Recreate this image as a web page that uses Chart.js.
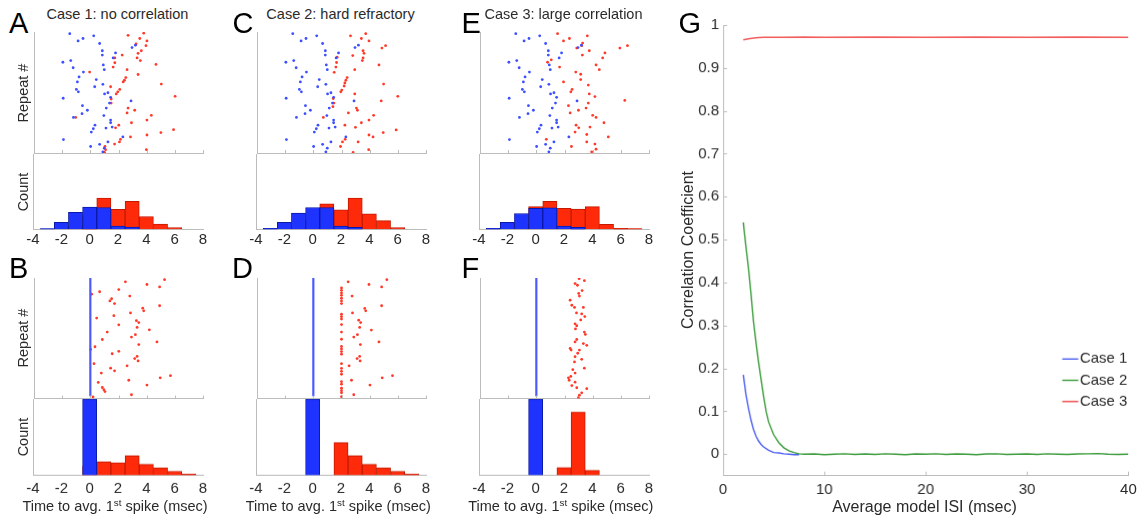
<!DOCTYPE html>
<html>
<head>
<meta charset="utf-8">
<script src="https://cdn.jsdelivr.net/npm/chart.js@4"></script>
<style>
body { margin: 0; background: #fff; }
#fig { position: relative; width: 1144px; height: 518px; overflow: hidden;
       font-family: "Liberation Sans", Arial, sans-serif; color: #2a2a2a; }
.box { position: absolute; }
.lbl { position: absolute; white-space: nowrap; line-height: 1; }
.letter { font-size: 29px; color: #000; }
.ttl { font-size: 14.5px; transform: translateX(-50%); }
.rot { transform: translate(-50%, -50%) rotate(-90deg); }
sup { font-size: 0.68em; vertical-align: 0.5em; line-height: 0; }
</style>
</head>
<body>
<div id="fig"></div>
<script>
// ---- data ----
const timeTicks = [-4, -2, 0, 2, 4, 6, 8];
const histBins = [-4, -3, -2, -1, 0, 1, 2, 3, 4, 5, 6, 7, 8];
const repeats = [1,2,3,4,5,6,7,8,9,10,11,12,13,14,15,16,17,18,19,20,21,22,23,24,25,
                 26,27,28,29,30,31,32,33,34,35,36,37,38,39,40,41,42,43,44,45,46,47,48,49,50];
const fixedBlueTime = 0;

// [time to avg 1st spike (msec), repeat #]
const rasterTopBlue = [[-1.46,49.7],[-0.87,46.7],[-0.52,47.7],[0.24,48.8],[0.66,45.6],[0.85,42.6],[0.85,40.8],
  [1.79,41.7],[1.62,39.6],[-1.95,37.8],[-1.39,38.5],[-1.22,35.5],[0.92,36.7],[0.99,34.7],[-0.49,33.7],
  [-0.80,31.7],[-0.92,29.6],[0.42,30.6],[0.89,28.6],[0.31,27.6],[-0.99,26.5],[-0.85,25.5],[1.25,25.1],
  [1.01,24.6],[-1.93,22.8],[1.44,23.2],[1.36,20.8],[2.89,21.7],[-0.56,19.7],[-0.21,17.8],[-0.59,16.4],
  [1.13,18.7],[-1.20,14.8],[0.96,15.6],[1.44,13.7],[1.44,12.6],[0.33,11.6],[0.21,10.1],[0.07,8.7],
  [1.11,10.4],[-1.91,5.6],[1.55,10.8],[0.02,2.7],[0.66,3.6],[1.25,4.6],[0.89,0.5],[0.99,2.0],
  [2.96,43.9],[3.20,44.9],[2.31,6.7]];
const rasterA_red = [[2.68,49.0],[3.79,49.9],[3.51,47.7],[4.02,46.7],[3.25,45.4],[3.62,42.6],[3.39,41.5],
  [3.95,44.7],[2.26,40.8],[1.74,39.6],[3.32,39.6],[3.55,38.5],[1.74,37.6],[1.62,35.8],[4.66,36.9],
  [2.61,34.7],[-0.05,33.7],[3.39,32.7],[2.52,31.4],[2.42,30.3],[2.33,29.6],[5.04,28.7],[1.44,27.6],
  [2.09,26.5],[1.95,25.5],[1.84,24.6],[6.02,23.6],[1.48,22.5],[1.48,20.8],[3.15,17.8],[2.68,18.7],
  [2.61,16.7],[4.33,15.7],[4.02,13.7],[2.92,12.6],[-1.04,14.8],[2.02,11.6],[1.79,10.5],[5.91,9.7],
  [5.01,8.5],[4.02,7.5],[2.85,6.7],[2.14,5.7],[2.07,4.6],[1.72,3.7],[3.98,1.4],[1.04,2.7],[1.08,1.4],[1.01,0.3]];
const rasterC_red = [[2.64,48.8],[3.72,49.7],[3.41,47.7],[3.95,46.7],[4.87,43.7],[5.13,44.7],[3.53,42.6],
  [3.60,41.5],[2.80,40.6],[3.53,39.6],[3.48,38.5],[1.69,39.9],[1.65,37.7],[1.60,35.8],[1.48,33.6],
  [4.66,36.7],[2.94,34.7],[2.40,31.4],[2.31,30.3],[2.24,29.2],[2.19,27.9],[2.02,26.2],[1.95,25.5],
  [4.99,28.7],[2.94,24.6],[1.41,22.7],[1.46,20.8],[1.39,19.3],[6.00,23.6],[4.82,21.7],[3.06,18.7],
  [3.13,17.8],[2.49,16.7],[4.28,15.7],[3.95,13.7],[3.41,12.6],[0.71,14.8],[2.24,11.6],[2.99,10.7],
  [5.88,9.6],[4.96,8.5],[3.95,7.5],[4.24,6.7],[2.26,5.7],[2.07,4.6],[3.18,4.6],[1.93,2.7],[3.93,1.4],[2.82,0.3]];
const rasterE_red = [[1.51,49.7],[1.93,46.7],[2.35,47.7],[3.62,48.8],[3.29,45.8],[3.22,44.7],[2.87,43.7],
  [3.76,42.6],[3.27,40.8],[4.87,41.7],[4.71,39.6],[5.93,43.7],[6.47,44.7],[1.06,38.8],[0.80,37.8],
  [1.65,35.8],[4.24,36.7],[4.47,34.7],[2.80,33.7],[3.15,32.8],[3.15,30.6],[3.69,28.3],[1.93,29.6],
  [2.54,26.5],[2.45,25.5],[3.76,24.6],[4.16,23.5],[6.28,21.9],[2.28,19.7],[3.53,18.7],[3.69,20.8],
  [2.99,17.8],[2.40,16.7],[4.00,15.7],[4.24,14.8],[4.80,12.6],[2.82,11.6],[3.81,10.8],[3.01,10.5],
  [2.75,8.7],[3.58,7.7],[5.11,6.7],[0.71,5.7],[3.58,4.6],[4.16,3.7],[2.49,2.7],[4.24,1.6],[3.93,0.5]];
const rasterB_red = [[2.49,48.4],[5.27,49.3],[4.02,47.3],[4.92,46.3],[0.66,44.3],[2.02,45.2],[0.09,43.3],
  [2.80,42.5],[1.51,41.4],[1.39,40.5],[1.72,39.4],[4.92,38.5],[3.72,37.5],[3.79,36.4],[1.67,34.4],
  [2.85,35.5],[0.45,33.4],[3.27,32.3],[3.44,31.5],[2.02,30.6],[3.32,29.5],[4.19,28.5],[1.20,27.6],
  [3.20,26.5],[2.92,25.5],[0.85,24.5],[4.73,23.5],[0.33,21.5],[3.44,22.4],[2.02,19.6],[1.55,18.6],
  [3.32,17.5],[3.15,16.6],[3.39,15.6],[0.26,14.5],[2.61,13.6],[1.44,12.6],[1.72,11.5],[0.78,10.6],
  [5.69,9.5],[4.96,8.6],[2.73,7.6],[0.56,6.7],[4.02,5.6],[0.85,4.6],[0.96,3.7],[1.04,2.9],[2.92,1.6],
  [0.19,0.7],[0.02,20.4]];
const rasterD_red = [[2.47,48.4],[5.22,49.3],[3.95,47.3],[4.85,46.3],[2.75,42.5],[4.85,38.5],[3.65,37.4],
  [3.72,36.4],[2.78,35.5],[3.22,32.5],[3.36,31.5],[3.29,29.5],[4.12,28.4],[3.13,26.5],[2.87,25.5],
  [4.66,23.5],[3.34,22.4],[3.29,17.5],[3.11,16.6],[3.32,15.6],[2.54,13.6],[5.62,9.5],[4.89,8.6],
  [2.71,7.6],[4.02,5.6],[2.87,1.6],
  [2,45.9],[2,44.9],[2,43.8],[2,42.8],[2,41.6],[2,40.5],[2,39.4],[2,35.0],[2,34.0],[2,33.0],[2,30.7],
  [2,27.6],[2,24.6],[2,21.6],[2,20.6],[2,19.5],[2,18.4],[2,14.5],[2,12.5],[2,11.3],[2,10.1],[2,7.0],
  [2,6.0],[2,4.3],[2,3.3],[2,2.4],[2,0.8]];
const rasterF_red = [[3.04,49.7],[3.41,48.9],[2.75,47.7],[2.92,47.0],[3.25,44.8],[3.01,43.6],[3.06,42.5],
  [2.40,40.8],[2.52,38.7],[2.71,37.8],[3.34,37.8],[2.85,35.5],[3.22,35.1],[3.44,34.0],[3.15,32.6],
  [2.75,31.0],[2.87,30.2],[2.78,28.9],[3.41,27.6],[3.48,26.6],[2.87,24.5],[2.75,23.5],[3.34,22.8],
  [3.58,22.1],[2.40,20.8],[2.47,20.1],[3.06,20.1],[2.94,18.8],[2.75,17.4],[3.22,16.3],[2.71,15.2],
  [3.41,12.6],[2.59,12.0],[2.75,10.6],[2.45,9.2],[2.28,8.6],[2.33,7.6],[2.75,6.8],[2.52,5.4],[2.87,4.5],
  [3.58,4.1],[3.22,2.4],[3.06,1.4],[2.99,0.4]];

// histogram counts per bin (bins = histBins)
const histA_blue = [0, 0.5, 4.7, 11.3, 14.7, 14.5, 2.2, 1.5, 0, 0, 0, 0, 0];
const histA_red  = [0, 0, 0, 2, 9, 20.7, 13.3, 18.5, 8.5, 3.5, 1.1, 0, 0];
const histC_blue = [0, 0.7, 4.7, 10.7, 14.5, 14.5, 2.2, 1.3, 0, 0, 0, 0, 0];
const histC_red  = [0, 0, 0, 1, 6, 16.9, 12.9, 20.7, 10.2, 5.8, 1.1, 0, 0];
const histE_blue = [0, 0.7, 4.7, 10.5, 14, 14.2, 2.2, 1.3, 0, 0, 0, 0, 0];
const histE_red  = [0, 0, 0, 4, 15.1, 18.5, 14, 13.5, 15.1, 3.3, 0.7, 0.5, 0];
const histB_blue = [0, 0, 0, 0, 50, 0, 0, 0, 0, 0, 0, 0, 0];
const histB_red  = [0, 0, 0, 0, 6, 8.9, 8.2, 12.9, 7.3, 4.9, 2.7, 0.9, 0];
const histD_blue = [0, 0, 0, 0, 50, 0, 0, 0, 0, 0, 0, 0, 0];
const histD_red  = [0, 0, 0, 0, 0, 0, 21.5, 12.9, 7.3, 4.9, 2.7, 0.9, 0];
const histF_blue = [0, 0, 0, 0, 50, 0, 0, 0, 0, 0, 0, 0, 0];
const histF_red  = [0, 0, 0, 0, 0, 0, 5.1, 41.5, 3.3, 0, 0, 0, 0];

// panel G
const isiTicks = [0, 10, 20, 30, 40];
const corrTicks = [0, 0.1, 0.2, 0.3, 0.4, 0.5, 0.6, 0.7, 0.8, 0.9, 1];
const case1X = [2, 2.25, 2.5, 2.75, 3, 3.25, 3.5, 3.75, 4, 4.5, 5, 5.5, 6, 6.5, 7, 7.5];
const case1Y = [0.185, 0.14, 0.108, 0.08, 0.058, 0.042, 0.031, 0.023, 0.017, 0.009, 0.004, 0.003, 0.001, 0, -0.001, -0.001];
const case2X = [2, 2.25, 2.5, 2.75, 3, 3.25, 3.5, 3.75, 4, 4.25, 4.5, 5, 5.5, 6, 6.5, 7, 7.5,
  8, 9, 10, 11, 12, 13, 14, 15, 16, 17, 18, 19, 20, 21, 22, 23, 24, 25, 26, 27, 28, 29, 30,
  31, 32, 33, 34, 35, 36, 37, 38, 39, 40];
const case2Y = [0.54, 0.485, 0.435, 0.375, 0.31, 0.26, 0.215, 0.175, 0.135, 0.10, 0.075, 0.045, 0.027, 0.015, 0.008, 0.004, 0.001,
  0, 0.0005, -0.001, 0, 0.001, -0.0005, 0.0005, -0.0005, 0.001, 0, -0.001, 0.0005, 0, 0.001, -0.0005, 0.0005, 0,
  -0.001, 0.0005, 0.001, -0.0005, 0, 0.0005, -0.0005, 0.001, 0, -0.0005, 0.0005, 0.001, 0.0015, 0, -0.0005, 0];
const case3X = [2, 2.5, 3, 3.5, 4, 5, 6, 8, 10, 15, 20, 25, 30, 35, 40];
const case3Y = [0.9657, 0.968, 0.9695, 0.9707, 0.9713, 0.9715, 0.9715, 0.9716, 0.9715, 0.9716, 0.9715, 0.9716, 0.9715, 0.9716, 0.9715];

// ---- layout / style ----
const AXIS = '#bcbcbc';
const DOT_BLUE = '#3d50ff', DOT_RED = '#ff3a2a';
const BAR_BLUE = '#1f33ff', EDGE_BLUE = '#0a1aa8';
const BAR_RED = '#ff2a0a', EDGE_RED = '#c41a00';
const colLeft = [33, 256, 479];
const colW = 170;
const rasterRows = [[31, 154], [276.7, 399.3]];
const histRows = [[154, 229.3], [399.3, 474.9]];
const rasterMax = [50.4, 50.0];
const tickPad = [2, 4];

Chart.defaults.font.family = '"Liberation Sans", Arial, sans-serif';
Chart.defaults.color = '#2a2a2a';

const fig = document.getElementById('fig');
// force an axis to a fixed thickness so the plot area lands where wanted
const fitTo = size => s => { if (s.isHorizontal()) s.height = size; else s.width = size; };
const fixTicks = vals => s => { s.ticks = vals.map(v => ({value: v})); };

// small inward tick marks
const inTicks = {
  id: 'inTicks',
  afterDatasetsDraw(chart, args, opts) {
    if (!opts.axes) return;
    const ctx = chart.ctx, a = chart.chartArea;
    ctx.save();
    ctx.strokeStyle = opts.color;
    ctx.lineWidth = 1;
    opts.axes.forEach(id => {
      const s = chart.scales[id];
      s.ticks.forEach(t => {
        const p = Math.round(s.getPixelForValue(t.value)) + 0.5;
        ctx.beginPath();
        if (s.isHorizontal()) { ctx.moveTo(p, a.bottom); ctx.lineTo(p, a.bottom - opts.len); }
        else { ctx.moveTo(a.left, p); ctx.lineTo(a.left + opts.len, p); }
        ctx.stroke();
      });
    });
    ctx.restore();
  }
};

// legend inside the G plot
const sideLegend = {
  id: 'sideLegend',
  afterDraw(chart, args, opts) {
    const ctx = chart.ctx, a = chart.chartArea;
    ctx.save();
    ctx.font = '15px "Liberation Sans", Arial, sans-serif';
    ctx.textBaseline = 'middle';
    chart.data.datasets.forEach((ds, i) => {
      const x = a.right - opts.dx, y = a.top + opts.dy + i * opts.gap;
      ctx.strokeStyle = ds.borderColor;
      ctx.lineWidth = ds.borderWidth;
      ctx.beginPath(); ctx.moveTo(x, y); ctx.lineTo(x + 16, y); ctx.stroke();
      ctx.fillStyle = '#2a2a2a';
      ctx.fillText(ds.label, x + 17.5, y);
    });
    ctx.restore();
  }
};

// box = outer margins around the plot area; axes with labels take margin via fitTo
function addChart(l, t, r, b, box, pad, config) {
  const div = document.createElement('div');
  div.className = 'box';
  div.style.left = (l - box.left) + 'px';
  div.style.top = (t - box.top) + 'px';
  div.style.width = (r - l + box.left + box.right) + 'px';
  div.style.height = (b - t + box.top + box.bottom) + 'px';
  const cv = document.createElement('canvas');
  div.appendChild(cv);
  fig.appendChild(div);
  config.options.responsive = true;
  config.options.maintainAspectRatio = false;
  config.options.animation = false;
  config.options.layout = {padding: pad};
  return new Chart(cv, config);
}

const toPoints = pairs => pairs.map(p => ({x: p[0], y: p[1]}));
const toBars = vals => histBins.map((b, i) => ({x: b, y: vals[i] || null}));

function rasterChart(col, row, blue, red) {
  const [t, b] = rasterRows[row];
  const l = colLeft[col];
  const blueDs = blue
    ? {data: toPoints(blue), backgroundColor: DOT_BLUE, pointRadius: 1.4, borderWidth: 0}
    : {data: repeats.map(r => ({x: fixedBlueTime, y: r})), showLine: true, borderColor: '#4a5aff',
       borderWidth: 2.2, pointRadius: 0};
  const m = {top: 3, right: 4, bottom: 3, left: 3};
  addChart(l, t, l + colW, b, m, m, {
    type: 'scatter',
    data: {datasets: [blueDs,
      {data: toPoints(red), backgroundColor: DOT_RED, pointRadius: 1.4, borderWidth: 0}]},
    options: {
      plugins: {legend: {display: false}, tooltip: {enabled: false},
                inTicks: {axes: ['x'], len: 3, color: AXIS}},
      scales: {
        x: {type: 'linear', min: -4, max: 8, afterBuildTicks: fixTicks(timeTicks),
            ticks: {display: false}, grid: {display: false}, border: {color: AXIS}, afterFit: fitTo(0)},
        y: {type: 'linear', min: 0, max: rasterMax[row], ticks: {display: false},
            grid: {display: false}, border: {color: AXIS}, afterFit: fitTo(0)}
      }
    },
    plugins: [inTicks]
  });
}

function histChart(col, row, hb, hr) {
  const [t, b] = histRows[row];
  const l = colLeft[col];
  const box = {top: 2, right: 12, bottom: 26, left: 12};
  addChart(l, t, l + colW, b, box, {top: 2, right: 12, bottom: 0, left: 12}, {
    type: 'bar',
    data: {datasets: [
      {data: toBars(hb), backgroundColor: BAR_BLUE, borderColor: EDGE_BLUE, borderWidth: 1, order: 0},
      {data: toBars(hr), backgroundColor: BAR_RED, borderColor: EDGE_RED, borderWidth: 1, order: 1}]},
    options: {
      datasets: {bar: {grouped: false, barPercentage: 1, categoryPercentage: 1}},
      plugins: {legend: {display: false}, tooltip: {enabled: false}},
      scales: {
        x: {type: 'linear', min: -4, max: 8, offset: false, afterBuildTicks: fixTicks(timeTicks),
            ticks: {padding: tickPad[row], font: {size: 15}, autoSkip: false, maxRotation: 0,
                    callback: v => String(v)},
            grid: {display: false, drawTicks: false}, border: {color: AXIS}, afterFit: fitTo(26)},
        y: {type: 'linear', min: 0, max: 50, ticks: {display: false},
            grid: {display: false}, border: {color: AXIS}, afterFit: fitTo(0)}
      }
    }
  });
}

rasterChart(0, 0, rasterTopBlue, rasterA_red); histChart(0, 0, histA_blue, histA_red);
rasterChart(1, 0, rasterTopBlue, rasterC_red); histChart(1, 0, histC_blue, histC_red);
rasterChart(2, 0, rasterTopBlue, rasterE_red); histChart(2, 0, histE_blue, histE_red);
rasterChart(0, 1, null, rasterB_red); histChart(0, 1, histB_blue, histB_red);
rasterChart(1, 1, null, rasterD_red); histChart(1, 1, histD_blue, histD_red);
rasterChart(2, 1, null, rasterF_red); histChart(2, 1, histF_blue, histF_red);

const zip = (xs, ys) => xs.map((x, i) => ({x: x, y: ys[i]}));
addChart(723.3, 25, 1127.7, 474.7, {top: 15, right: 16, bottom: 26, left: 36},
         {top: 15, right: 16, bottom: 0, left: 0}, {
  type: 'scatter',
  data: {datasets: [
    {label: 'Case 1', data: zip(case1X, case1Y), showLine: true, borderColor: '#4d5ff0', borderWidth: 1.4, pointRadius: 0, order: 2},
    {label: 'Case 2', data: zip(case2X, case2Y), showLine: true, borderColor: '#3a9a3a', borderWidth: 1.4, pointRadius: 0, order: 0},
    {label: 'Case 3', data: zip(case3X, case3Y), showLine: true, borderColor: '#f25a5a', borderWidth: 1.6, pointRadius: 0, order: 1}]},
  options: {
    plugins: {legend: {display: false}, tooltip: {enabled: false},
              inTicks: {axes: ['x', 'y'], len: 4, color: AXIS},
              sideLegend: {dx: 66, dy: 333.3, gap: 21.2}},
    scales: {
      x: {type: 'linear', min: 0, max: 40, afterBuildTicks: fixTicks(isiTicks),
          ticks: {padding: 5, font: {size: 15}, maxRotation: 0, callback: v => String(v)},
          grid: {display: false, drawTicks: false}, border: {color: AXIS}, afterFit: fitTo(26)},
      y: {type: 'linear', min: -0.05, max: 1, afterBuildTicks: fixTicks(corrTicks),
          ticks: {padding: 4, font: {size: 15}, callback: v => String(v)},
          grid: {display: false, drawTicks: false}, border: {color: AXIS}, afterFit: fitTo(36)}
    }
  },
  plugins: [inTicks, sideLegend]
});

// ---- text ----
function addText(html, cls, x, y, size) {
  const d = document.createElement('div');
  d.className = 'lbl ' + cls;
  d.innerHTML = html;
  d.style.left = x + 'px';
  d.style.top = y + 'px';
  if (size) d.style.fontSize = size + 'px';
  fig.appendChild(d);
}
addText('A', 'letter', 9, 8.5);
addText('B', 'letter', 9, 254);
addText('C', 'letter', 232.5, 8.5);
addText('D', 'letter', 232, 254);
addText('E', 'letter', 461.5, 8.5);
addText('F', 'letter', 461.5, 254);
addText('G', 'letter', 678.5, 8.5);
addText('Case 1: no correlation', 'ttl', 117.5, 6.7);
addText('Case 2: hard refractory', 'ttl', 340.5, 6.7);
addText('Case 3: large correlation', 'ttl', 563.5, 6.7);
addText('Repeat #', 'rot', 22.5, 92.5, 14.5);
addText('Count', 'rot', 22.5, 191.5, 14.5);
addText('Repeat #', 'rot', 22.5, 338, 14.5);
addText('Count', 'rot', 22.5, 437, 14.5);
const xLab = 'Time to avg. 1<sup>st</sup> spike (msec)';
addText(xLab, 'ttl', 115, 499);
addText(xLab, 'ttl', 338.3, 499);
addText(xLab, 'ttl', 560.8, 499);
addText('Correlation Coefficient', 'rot', 688, 250, 16);
addText('Average model ISI (msec)', 'ttl', 924.5, 499, 16);
</script>
</body>
</html>
